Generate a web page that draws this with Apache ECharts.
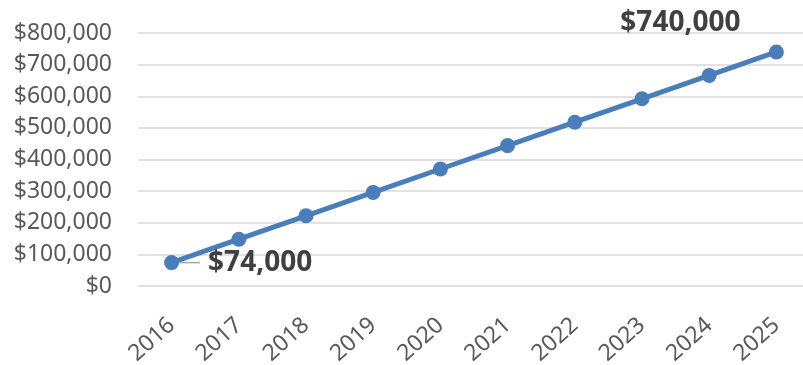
<!DOCTYPE html>
<html><head><meta charset="utf-8">
<script src="https://cdn.jsdelivr.net/npm/echarts@6/dist/echarts.min.js"></script>
<style>html,body{margin:0;padding:0;background:#fff}#c{width:803px;height:365px}</style>
</head><body><div id="c"></div>
<script>
const years = ['2016','2017','2018','2019','2020','2021','2022','2023','2024','2025'];
const values = [74000,148000,222000,296000,370000,444000,518000,592000,666000,740000];
const yTicks = {min:0, max:800000, interval:100000};

const fmt = v => '$' + v.toLocaleString('en-US');
const chart = echarts.init(document.getElementById('c'), null, {renderer:'canvas'});
const data = values.map((v,i) => {
  if (i === 0) return {value:v, label:{show:true, position:'right', distance:0,
    formatter:p=>'{l|}{t|' + fmt(p.value) + '}'}};
  if (i === values.length-1) return {value:v, label:{show:true, position:'top', offset:[-96,-2]}};
  return v;
});
const txt = {color:'#404040', fontSize:28, fontWeight:'bold', fontFamily:'Noto Sans'};
chart.setOption({
  animation:false,
  grid:{left:138, width:672, top:33, height:253, containLabel:false, outerBoundsMode:'none'},
  xAxis:{type:'category', data:years, boundaryGap:true,
    axisLine:{show:false}, axisTick:{show:false},
    axisLabel:{rotate:42, margin:36, color:'#595959', fontSize:23, fontFamily:'Noto Sans', interval:0}},
  yAxis:{type:'value', min:yTicks.min, max:yTicks.max, interval:yTicks.interval,
    axisLine:{show:false}, axisTick:{show:false},
    splitLine:{lineStyle:{color:'#d9d9d9', width:1.5}},
    axisLabel:{margin:26, color:'#595959', fontSize:23, fontFamily:'Noto Sans', formatter:fmt}},
  series:[{type:'line', data:data, symbol:'circle', symbolSize:15,
    lineStyle:{color:'#4A7EBB', width:5}, itemStyle:{color:'#4A7EBB'},
    label:Object.assign({show:false, formatter:p=>fmt(p.value),
      rich:{l:{width:21, height:1.5, backgroundColor:'#a6a6a6', verticalAlign:'middle'},
            t:Object.assign({padding:[0,0,0,8]}, txt)}}, txt)
  }]
});
</script></body></html>
